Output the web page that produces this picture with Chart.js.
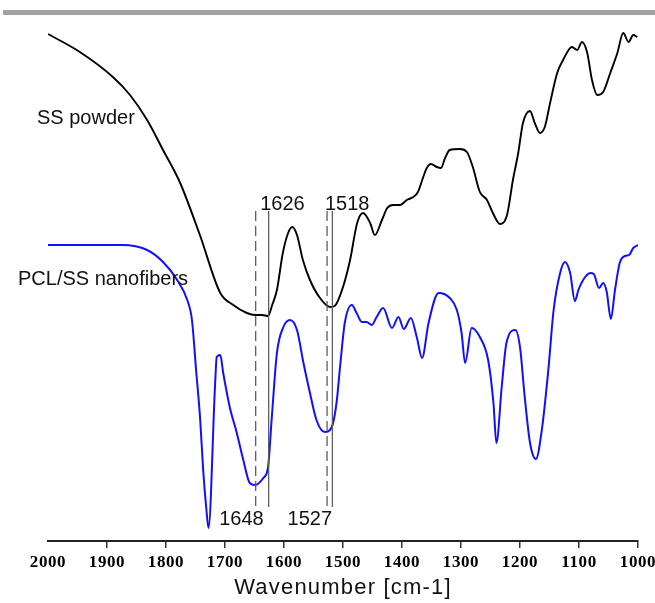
<!DOCTYPE html>
<html><head><meta charset="utf-8">
<script src="https://cdn.jsdelivr.net/npm/chart.js@4.4.0/dist/chart.umd.min.js"></script>
<style>html,body{margin:0;padding:0;background:#fff;overflow:hidden}canvas{display:block}</style>
</head><body>
<canvas id="c" width="655" height="603"></canvas>
<script>
// ---- data (transmittance in arbitrary units) ----
const ssWavenumber = [2000,1946,1890,1861,1832,1805,1776,1742,1708,1686,1663,1649,1637,1627,1620,1612,1602,1593,1586,1578,1568,1556,1539,1522,1514,1500,1488,1476,1466,1454,1446,1434,1425,1415,1403,1392,1381,1373,1364,1358,1351,1341,1334,1327,1319,1302,1290,1280,1268,1256,1246,1234,1222,1212,1203,1195,1183,1175,1166,1158,1149,1137,1127,1112,1103,1095,1086,1078,1069,1059,1047,1035,1025,1016,1008,1001];
const ssTransmittance = [507,489,464,446,421,391,358,305,248,236,228,226,226,225,236,251,288,308,314,306,281,261,243,234,235,254,281,318,328,318,306,321,333,336,336,341,344,349,364,373,377,374,373,383,391,392,389,374,349,341,328,317,326,361,388,418,430,418,408,414,438,468,481,494,491,499,488,461,446,449,468,488,508,499,506,504];

const pclWavenumber = [2000,1875,1832,1805,1781,1764,1756,1749,1742,1737,1731,1728,1717,1714,1708,1703,1692,1680,1669,1658,1649,1635,1627,1621,1612,1601,1590,1578,1567,1556,1545,1531,1519,1511,1505,1497,1485,1477,1468,1460,1451,1443,1432,1417,1406,1397,1385,1375,1366,1355,1338,1319,1307,1299,1293,1282,1268,1254,1245,1240,1231,1223,1208,1200,1192,1183,1173,1163,1152,1143,1132,1124,1115,1107,1101,1093,1081,1075,1066,1059,1053,1046,1039,1031,1022,1015,1008,1000];
const pclTransmittance = [296,296,291,279,261,241,221,171,121,71,28,13,154,184,186,168,134,108,81,58,56,63,74,121,188,214,221,211,178,148,121,109,114,138,174,218,236,228,219,219,216,224,233,213,224,212,223,204,183,218,248,243,231,208,178,213,204,181,138,98,154,198,211,194,144,98,82,111,171,231,268,279,268,240,251,261,268,267,253,258,249,222,251,278,285,286,293,296];

const seriesNames = ['SS powder', 'PCL/SS nanofibers'];
const xTickValues = [2000,1900,1800,1700,1600,1500,1400,1300,1200,1100,1000];
const dashedMarks = [1648, 1527];
const solidMarks = [1626, 1518];
const markSpan = [34, 330];
const axisTitle = 'Wavenumber [cm-1]';

const toPts = (xs, ys) => xs.map((v, i) => ({x: v, y: ys[i]}));

const SANS = '"Liberation Sans", Arial, Helvetica, sans-serif';

const annot = {
  id: 'annot',
  beforeDraw(chart) {
    const c = chart.ctx;
    c.save();
    c.fillStyle = '#a2a2a2';
    c.fillRect(3, 10, 652, 5);
    c.restore();
  },
  afterDatasetsDraw(chart) {
    const {ctx, scales: {x, y}} = chart;
    const top = y.getPixelForValue(markSpan[1]);
    const bot = y.getPixelForValue(markSpan[0]);
    ctx.save();
    ctx.strokeStyle = '#5e5e5e';
    ctx.lineWidth = 1.3;
    dashedMarks.forEach(v => {
      const px = x.getPixelForValue(v);
      ctx.setLineDash([10, 5]);
      ctx.beginPath(); ctx.moveTo(px, top); ctx.lineTo(px, bot); ctx.stroke();
    });
    solidMarks.forEach(v => {
      const px = x.getPixelForValue(v);
      ctx.setLineDash([]);
      ctx.beginPath(); ctx.moveTo(px, top); ctx.lineTo(px, bot); ctx.stroke();
    });
    ctx.setLineDash([]);
    ctx.fillStyle = '#111';
    ctx.font = '20px ' + SANS;
    ctx.textBaseline = 'alphabetic';
    ctx.textAlign = 'left';
    const topOff = [-8.5, -7.5];
    solidMarks.forEach((v, i) => {
      ctx.fillText(String(v), x.getPixelForValue(v) + topOff[i], 210);
    });
    ctx.textAlign = 'right';
    const botOff = [8, 5];
    dashedMarks.forEach((v, i) => {
      ctx.fillText(String(v), x.getPixelForValue(v) + botOff[i], 525);
    });
    ctx.textAlign = 'left';
    ctx.fillText(seriesNames[0], 37, 124);
    ctx.fillText(seriesNames[1], 18, 285);
    ctx.restore();
  }
};

new Chart(document.getElementById('c'), {
  type: 'line',
  data: {
    datasets: [
      {label: seriesNames[0], data: toPts(ssWavenumber, ssTransmittance), borderColor: '#000', borderWidth: 1.9, pointRadius: 0, cubicInterpolationMode: 'monotone', fill: false},
      {label: seriesNames[1], data: toPts(pclWavenumber, pclTransmittance), borderColor: '#1010ff', borderWidth: 2, pointRadius: 0, cubicInterpolationMode: 'monotone', fill: false}
    ]
  },
  options: {
    responsive: false,
    animation: false,
    devicePixelRatio: 1,
    layout: {padding: {top: 20, left: 48, right: 17, bottom: 0}},
    plugins: {legend: {display: false}, tooltip: {enabled: false}},
    scales: {
      x: {
        type: 'linear',
        reverse: true,
        min: 1000, max: 2000,
        afterBuildTicks: s => { s.ticks = xTickValues.map(v => ({value: v})); },
        afterFit: s => {
          s.height = 62;
          s.paddingLeft = 0; s.paddingRight = 0;
          if (!s._lsPatched) {
            const origTitle = s.drawTitle, origLabels = s.drawLabels;
            s.drawTitle = function () { const c = this.ctx; c.save(); c.letterSpacing = '1.2px'; origTitle.apply(this, arguments); c.restore(); };
            s.drawLabels = function () { const c = this.ctx; c.save(); c.letterSpacing = '0.6px'; origLabels.apply(this, arguments); c.restore(); };
            s._lsPatched = true;
          }
        },
        ticks: {
          autoSkip: false, maxRotation: 0, padding: 4, color: '#000',
          font: {family: '"Liberation Serif", "Times New Roman", serif', size: 17, weight: 'bold'},
          callback: v => String(v)
        },
        grid: {
          display: true, drawOnChartArea: false, tickLength: 7, lineWidth: 1.5,
          color: '#333',
          tickColor: c => (c.tick && c.tick.value === 2000) ? 'rgba(0,0,0,0)' : '#333'
        },
        border: {display: true, color: '#222', width: 2},
        title: {display: true, text: axisTitle, color: '#111', font: {family: SANS, size: 22}, padding: {top: 2, bottom: 2}}
      },
      y: {
        type: 'linear', display: false, min: 0, max: 521
      }
    }
  },
  plugins: [annot]
});
</script>
</body></html>
